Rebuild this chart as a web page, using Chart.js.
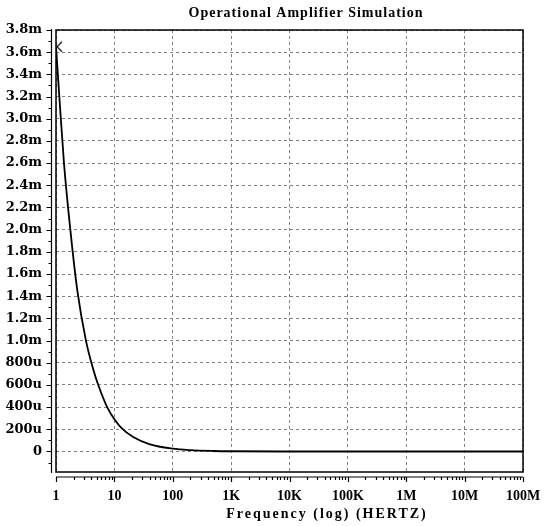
<!DOCTYPE html>
<html>
<head>
<meta charset="utf-8">
<script src="https://cdn.jsdelivr.net/npm/chart.js@4.4.0/dist/chart.umd.min.js"></script>
<style>
  html, body { margin: 0; padding: 0; background: #fff; }
  #wrap { width: 544px; height: 526px; position: relative; }
</style>
</head>
<body>
<div id="wrap"><canvas id="opampChart"></canvas></div>
<script>
// trace: frequency in Hz, output in volts
const freqHz = [1, 1.14, 1.37, 1.76, 2.32, 3.26, 4.35, 5.3, 7.68, 10, 13.3, 21, 40.7, 100, 200, 500, 1000, 1e4, 1e5, 1e6, 1e7, 1e8];
const outputV = [0.00365, 0.0032, 0.0026, 0.0020, 0.00145, 0.0010, 0.00074, 0.00060, 0.00039, 0.00029, 0.00021, 0.00013, 0.000064, 0.000025, 0.000012, 0.0000045, 0.000002, 0, 0, 0, 0, 0];

const xTickValues = [1, 10, 100, 1e3, 1e4, 1e5, 1e6, 1e7, 1e8];
const xTickLabels = ['1', '10', '100', '1K', '10K', '100K', '1M', '10M', '100M'];
const yTickValues = [0, 0.0002, 0.0004, 0.0006, 0.0008, 0.0010, 0.0012, 0.0014, 0.0016, 0.0018, 0.0020,
  0.0022, 0.0024, 0.0026, 0.0028, 0.0030, 0.0032, 0.0034, 0.0036, 0.0038];
const yTickLabels = ['0', '200u', '400u', '600u', '800u', '1.0m', '1.2m', '1.4m', '1.6m', '1.8m', '2.0m',
  '2.2m', '2.4m', '2.6m', '2.8m', '3.0m', '3.2m', '3.4m', '3.6m', '3.8m'];

const titleText = 'Operational Amplifier Simulation';
const xAxisTitle = 'Frequency (log) (HERTZ)';
const serif = '"Liberation Serif", "Times New Roman", serif';
const wideSerif = '"DejaVu Serif", serif';

// "<" cursor marker at the first point
const cursor = document.createElement('canvas');
cursor.width = 16; cursor.height = 16;
(function () {
  const c = cursor.getContext('2d');
  c.strokeStyle = '#000'; c.lineWidth = 1.2;
  c.beginPath();
  c.moveTo(14, 3); c.lineTo(9, 8); c.lineTo(14, 13);
  c.stroke();
})();

// frame, offset tick axes and the two titles
const axisDecor = {
  id: 'axisDecor',
  afterDraw(chart) {
    const { ctx, chartArea: a, scales: { x, y } } = chart;
    ctx.save();
    ctx.strokeStyle = '#000';
    ctx.lineWidth = 1.5;
    ctx.strokeRect(a.left, a.top, a.right - a.left, a.bottom - a.top);

    // y tick axis
    const yl = a.left - 4.5;
    ctx.lineWidth = 1.2;
    ctx.beginPath();
    ctx.moveTo(yl, a.top - 1);
    ctx.lineTo(yl, a.bottom + 1);
    for (let i = -1; i <= 38; i++) {
      const py = Math.round(y.getPixelForValue(i * 0.0001)) + 0.5;
      const len = i % 2 === 0 ? 5 : 3;
      ctx.moveTo(yl, py);
      ctx.lineTo(yl - len, py);
    }
    ctx.stroke();

    // x tick axis
    const xl = a.bottom + 5;
    ctx.beginPath();
    ctx.moveTo(a.left, xl);
    ctx.lineTo(a.right, xl);
    for (let d = 0; d <= 8; d++) {
      for (let m = 1; m <= 9; m++) {
        if (d === 8 && m > 1) break;
        const px = Math.round(x.getPixelForValue(m * Math.pow(10, d))) + 0.5;
        const len = m === 1 ? 5 : 3;
        ctx.moveTo(px, xl);
        ctx.lineTo(px, xl + len);
      }
    }
    ctx.stroke();

    ctx.fillStyle = '#000';
    ctx.textAlign = 'center';
    ctx.textBaseline = 'middle';
    ctx.font = 'bold 14px ' + serif;
    ctx.letterSpacing = '1px';
    ctx.fillText(titleText, 306, 13);
    ctx.letterSpacing = '2px';
    ctx.fillText(xAxisTitle, 327, 514);
    ctx.restore();
  }
};

new Chart(document.getElementById('opampChart').getContext('2d'), {
  type: 'line',
  data: {
    datasets: [{
      data: freqHz.map((f, i) => ({ x: f, y: outputV[i] })),
      borderColor: '#000',
      borderWidth: 1.8,
      cubicInterpolationMode: 'monotone',
      pointRadius: ctx => ctx.dataIndex === 0 ? 8 : 0,
      pointStyle: cursor,
      pointHoverRadius: 0,
      fill: false
    }]
  },
  options: {
    responsive: true,
    maintainAspectRatio: false,
    animation: false,
    layout: { padding: { top: 30, right: 21, bottom: 0, left: 0 } },
    plugins: { legend: { display: false }, tooltip: { enabled: false }, title: { display: false } },
    scales: {
      x: {
        type: 'logarithmic',
        min: 1,
        max: 1e8,
        afterBuildTicks: s => { s.ticks = xTickValues.map(v => ({ value: v })); },
        afterFit: s => { s.height = 54; s.paddingLeft = 0; s.paddingRight = 0; },
        ticks: {
          autoSkip: false,
          maxRotation: 0,
          padding: 16,
          color: '#000',
          font: { family: serif, size: 14, weight: 'bold' },
          callback: (v, i) => xTickLabels[i]
        },
        grid: { color: '#808080', lineWidth: 1, drawTicks: false },
        border: { display: false, dash: [3, 3] }
      },
      y: {
        min: -0.000185,
        max: 0.0038,
        afterBuildTicks: s => { s.ticks = yTickValues.map(v => ({ value: v })); },
        afterFit: s => { s.width = 56; s.paddingTop = 0; s.paddingBottom = 0; },
        ticks: {
          autoSkip: false,
          padding: 14,
          color: '#000',
          font: { family: wideSerif, size: 13, weight: 'bold' },
          callback: (v, i) => yTickLabels[i]
        },
        grid: { color: '#808080', lineWidth: 1, drawTicks: false },
        border: { display: false, dash: [3, 3] }
      }
    }
  },
  plugins: [axisDecor]
});
</script>
</body>
</html>
